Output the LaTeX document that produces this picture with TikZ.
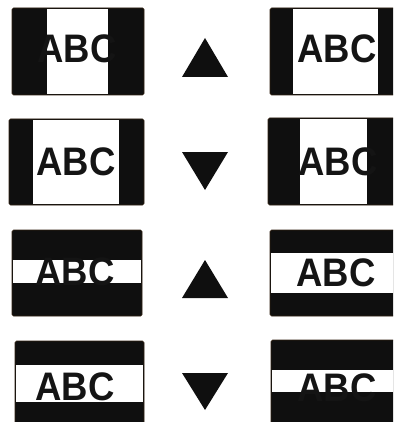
\documentclass[tikz,border=0pt]{standalone}
\usepackage{fontspec}
\setmainfont{Liberation Sans}
\newcommand{\tallabc}{\scalebox{1}[1.09]{ABC}}
\begin{document}
\begin{tikzpicture}[x=1pt,y=-1pt,
  panel/.style={fill=black!94, draw=black!75!brown, line width=0.7pt, rounded corners=1.5pt},
  window/.style={fill=white},
  arrowmark/.style={fill=black!94},
  lbl/.style={inner sep=0pt, font=\fontsize{36.5}{36}\selectfont\bfseries, text=black!92}]
\useasboundingbox (0,0) rectangle (393,422);
\begin{scope}
\clip (0,0) rectangle (393,422);
% row 1
\filldraw[panel] (12,8) rectangle (144,95);
\fill[window] (47,8.6) rectangle (108,94.4);
\filldraw[panel] (270,8) rectangle (402,95);
\fill[window] (293,8.6) rectangle (378,94.4);
% row 2
\filldraw[panel] (9,119) rectangle (144,205);
\fill[window] (33,119.6) rectangle (119,204.4);
\filldraw[panel] (268,118) rectangle (400,205);
\fill[window] (300,118.6) rectangle (367,204.4);
% row 3
\filldraw[panel] (12,230) rectangle (142,316);
\fill[window] (12.6,260) rectangle (141.4,283);
\filldraw[panel] (270,230) rectangle (402,316);
\fill[window] (270.6,253) rectangle (401.4,293);
% row 4
\filldraw[panel] (15,341) rectangle (144,430);
\fill[window] (15.6,365) rectangle (143.4,402);
\filldraw[panel] (271,340) rectangle (402,430);
\fill[window] (271.6,370) rectangle (401.4,392);
\end{scope}
% triangles
\fill[arrowmark] (182,77) -- (205,38) -- (228,77) -- cycle;
\fill[arrowmark] (182,152) -- (228,152) -- (205,190) -- cycle;
\fill[arrowmark] (182,298) -- (205,260) -- (228,298) -- cycle;
\fill[arrowmark] (182,373) -- (228,373) -- (205,410) -- cycle;
% labels
\node[lbl] (t1l) at (77,49) {\tallabc};
\node[lbl] (t1r) at (337,49) {\tallabc};
\node[lbl] (t2l) at (76,161.5) {\tallabc};
\node[lbl] (t2r) at (338,161.5) {\tallabc};
\node[lbl] (t3l) at (75,272) {\tallabc};
\node[lbl] (t3r) at (336,272.5) {\tallabc};
\node[lbl] (t4l) at (75,387) {\tallabc};
\node[lbl] (t4r) at (337,387.5) {\tallabc};
\end{tikzpicture}
\end{document}
